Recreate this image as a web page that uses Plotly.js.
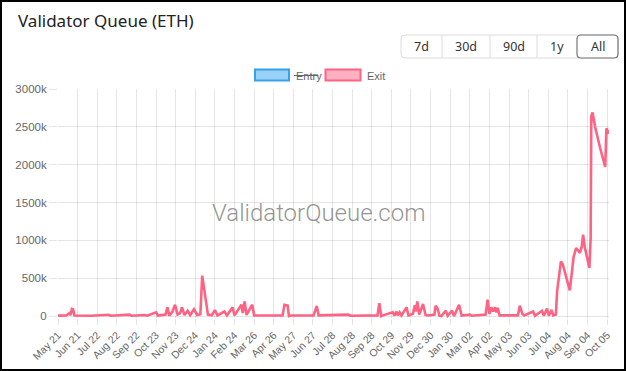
<!DOCTYPE html>
<html>
<head>
<meta charset="utf-8">
<script src="https://cdn.plot.ly/plotly-3.0.1.min.js"></script>
<style>
html,body{margin:0;padding:0;background:#fff;}
#chart{width:626px;height:371px;}
</style>
</head>
<body>
<div id="chart"></div>
<script>
// ---- data ----
const dates = [
'2023-05-21','2023-06-03','2023-06-08','2023-06-10','2023-06-12','2023-06-14','2023-06-16','2023-07-12',
'2023-08-09','2023-08-12','2023-09-11','2023-09-14','2023-10-05','2023-10-09','2023-10-23','2023-10-26',
'2023-11-07','2023-11-10','2023-11-13','2023-11-18','2023-11-22','2023-11-26','2023-11-30','2023-12-03',
'2023-12-07','2023-12-12','2023-12-16','2023-12-22','2023-12-27','2024-01-01','2024-01-04','2024-01-08',
'2024-01-13','2024-01-19','2024-01-24','2024-01-28','2024-02-08','2024-02-12','2024-02-21','2024-02-24',
'2024-03-06','2024-03-08','2024-03-11','2024-03-14','2024-03-23','2024-03-26','2024-04-15','2024-05-10',
'2024-05-13','2024-05-18','2024-05-20','2024-05-23','2024-06-28','2024-07-03','2024-07-06','2024-08-22',
'2024-08-25','2024-10-07','2024-10-10','2024-10-13','2024-10-16','2024-10-31','2024-11-03','2024-11-06',
'2024-11-08','2024-11-11','2024-11-14','2024-11-22','2024-11-25','2024-12-02','2024-12-05','2024-12-07',
'2024-12-09','2024-12-12','2024-12-18','2024-12-22','2024-12-26','2025-01-05','2025-01-07','2025-01-10',
'2025-01-13','2025-01-16','2025-01-23','2025-01-26','2025-02-02','2025-02-05','2025-02-13','2025-02-17',
'2025-03-02','2025-03-05','2025-03-27','2025-03-30','2025-04-02','2025-04-05','2025-04-08','2025-04-11',
'2025-04-13','2025-04-15','2025-04-18','2025-05-17','2025-05-20','2025-05-24','2025-05-27','2025-06-10',
'2025-06-13','2025-06-24','2025-06-27','2025-07-02','2025-07-05','2025-07-09','2025-07-12','2025-07-16',
'2025-07-18','2025-07-24','2025-07-27','2025-07-31','2025-08-03','2025-08-07','2025-08-10','2025-08-13',
'2025-08-17','2025-08-20','2025-08-23','2025-08-26','2025-08-28','2025-08-31','2025-09-03','2025-09-07',
'2025-09-09','2025-09-10','2025-09-12','2025-09-16','2025-09-24','2025-09-30','2025-10-02','2025-10-04',
'2025-10-06','2025-10-08'
];
const exitQueue = [
6000,8000,40000,12000,95000,88000,8000,5000,
18000,5000,20000,5000,15000,6000,50000,8000,
20000,116000,5000,60000,150000,20000,40000,116000,
15000,70000,15000,90000,15000,25000,534000,300000,
20000,10000,80000,10000,60000,10000,116000,10000,
150000,40000,195000,15000,150000,10000,8000,8000,
150000,140000,0,8000,8000,135000,10000,20000,
5000,10000,169000,0,10000,50000,8000,60000,
10000,50000,8000,116000,8000,30000,142000,60000,
195000,20000,160000,15000,8000,20000,138000,100000,
5000,0,73000,5000,73000,0,150000,8000,
20000,5000,20000,218000,30000,116000,60000,116000,
50000,110000,10000,10000,138000,30000,8000,60000,
5000,70000,5000,100000,5000,80000,10000,20000,
330000,723000,680000,550000,480000,340000,550000,780000,
900000,870000,834000,920000,1075000,900000,770000,636000,
1030000,2640000,2690000,2500000,2220000,2020000,1970000,2480000,
2440000,2410000
];
const tickDates = ['2023-05-21','2023-06-21','2023-07-22','2023-08-22','2023-09-22','2023-10-23','2023-11-23','2023-12-24','2024-01-24','2024-02-24','2024-03-26','2024-04-26','2024-05-27','2024-06-27','2024-07-28','2024-08-28','2024-09-28','2024-10-29','2024-11-29','2024-12-30','2025-01-30','2025-03-02','2025-04-02','2025-05-03','2025-06-03','2025-07-04','2025-08-04','2025-09-04','2025-10-05'];
const tickLabels = ['May 21','Jun 21','Jul 22','Aug 22','Sep 22','Oct 23','Nov 23','Dec 24','Jan 24','Feb 24','Mar 26','Apr 26','May 27','Jun 27','Jul 28','Aug 28','Sep 28','Oct 29','Nov 29','Dec 30','Jan 30','Mar 02','Apr 02','May 03','Jun 03','Jul 04','Aug 04','Sep 04','Oct 05'];
const yTickVals = [0,500000,1000000,1500000,2000000,2500000,3000000];
const yTickLabels = ['0','500k','1000k','1500k','2000k','2500k','3000k'];
const seriesNames = ['Entry','Exit'];
const rangeButtons = ['7d','30d','90d','1y','All'];
const chartTitle = 'Validator Queue (ETH)';
const watermark = 'ValidatorQueue.com';

// ---- layout helpers (pixel -> paper) ----
const W=626,H=371,ML=58,MR=17,MT=89,MB=53;
const PW=W-ML-MR, PH=H-MT-MB;
const px = x => (x-ML)/PW;
const py = y => (H-MB-y)/PH;
function rrect(x0,y0,x1,y1,r){
  const P=(x,y)=>px(x)+','+py(y);
  return 'M'+P(x0+r,y0)+' L'+P(x1-r,y0)+' Q'+P(x1,y0)+' '+P(x1,y0+r)+
         ' L'+P(x1,y1-r)+' Q'+P(x1,y1)+' '+P(x1-r,y1)+
         ' L'+P(x0+r,y1)+' Q'+P(x0,y1)+' '+P(x0,y1-r)+
         ' L'+P(x0,y0+r)+' Q'+P(x0,y0)+' '+P(x0+r,y0)+' Z';
}
const grid='rgba(0,0,0,0.1)';
const tickFont={family:'Liberation Sans, Arial, sans-serif',size:11.5,color:'#666'};

const trace = {
  x: dates, y: exitQueue, type:'scatter', mode:'lines', name: seriesNames[1],
  line:{color:'rgb(255,99,132)',width:2.6}, hoverinfo:'skip', showlegend:false
};

const shapes = [
  {type:'rect',xref:'paper',yref:'paper',x0:px(1),x1:px(625),y0:py(1),y1:py(370),line:{color:'#000',width:2},fillcolor:'rgba(0,0,0,0)',layer:'above'},
  {type:'rect',xref:'paper',yref:'paper',x0:px(255),x1:px(289),y0:py(69.5),y1:py(80.5),line:{color:'rgb(54,162,235)',width:2},fillcolor:'rgba(54,162,235,0.5)'},
  {type:'rect',xref:'paper',yref:'paper',x0:px(325.5),x1:px(360.5),y0:py(69.5),y1:py(80.5),line:{color:'rgb(255,99,132)',width:2},fillcolor:'rgba(255,99,132,0.5)'},
  {type:'line',xref:'paper',yref:'paper',x0:px(294),x1:px(318.5),y0:py(75.5),y1:py(75.5),line:{color:'#666',width:1}},
  {type:'path',xref:'paper',yref:'paper',path:rrect(401,35,618,58,4),line:{color:'#dcdcdc',width:1},fillcolor:'#fff'},
  {type:'line',xref:'paper',yref:'paper',x0:px(442),x1:px(442),y0:py(35),y1:py(58),line:{color:'#dcdcdc',width:1}},
  {type:'line',xref:'paper',yref:'paper',x0:px(490),x1:px(490),y0:py(35),y1:py(58),line:{color:'#dcdcdc',width:1}},
  {type:'line',xref:'paper',yref:'paper',x0:px(537),x1:px(537),y0:py(35),y1:py(58),line:{color:'#dcdcdc',width:1}},
  {type:'path',xref:'paper',yref:'paper',path:rrect(577,35,618,58,4),line:{color:'#777',width:1.2},fillcolor:'rgba(0,0,0,0)'}
];

const btnCenters=[421.5,466,513.5,557,597.5];
const annotations = [
  {text:chartTitle,xref:'paper',yref:'paper',x:px(16),y:py(20),xanchor:'left',yanchor:'middle',showarrow:false,
   font:{family:'Noto Sans, Open Sans, sans-serif',size:17,color:'#222'}},
  {text:watermark,xref:'paper',yref:'paper',x:px(318.5),y:py(213),xanchor:'center',yanchor:'middle',showarrow:false,
   font:{family:'Roboto, Liberation Sans, sans-serif',size:24,weight:300,color:'rgba(120,120,120,0.8)'}},
  {text:seriesNames[0],xref:'paper',yref:'paper',x:px(294),y:py(75.5),xanchor:'left',yanchor:'middle',showarrow:false,
   font:{family:'Liberation Sans, Arial, sans-serif',size:11,color:'#666'}},
  {text:seriesNames[1],xref:'paper',yref:'paper',x:px(365),y:py(75.5),xanchor:'left',yanchor:'middle',showarrow:false,
   font:{family:'Liberation Sans, Arial, sans-serif',size:11,color:'#666'}}
];
rangeButtons.forEach((b,i)=>annotations.push({text:b,xref:'paper',yref:'paper',x:px(btnCenters[i]),y:py(46.5),
  xanchor:'center',yanchor:'middle',showarrow:false,font:{family:'Noto Sans, Open Sans, sans-serif',size:12.5,color:'#333'}}));

const layout = {
  width:W,height:H,margin:{l:ML,r:MR,t:MT,b:MB,pad:0},
  paper_bgcolor:'#fff',plot_bgcolor:'#fff',showlegend:false,hovermode:false,
  xaxis:{type:'date',range:['2023-05-21','2025-10-08'],tickmode:'array',tickvals:tickDates,ticktext:tickLabels,
    tickangle:-45,showgrid:true,gridcolor:grid,gridwidth:1,ticks:'outside',ticklen:6,tickcolor:grid,
    showline:false,zeroline:false,tickfont:Object.assign({},tickFont,{size:10.5}),fixedrange:true},
  yaxis:{range:[-25000,3000000],tickmode:'array',tickvals:yTickVals,ticktext:yTickLabels,showgrid:true,
    gridcolor:grid,gridwidth:1,ticks:'outside',ticklen:8,tickcolor:grid,showline:false,zeroline:false,
    tickfont:tickFont,fixedrange:true},
  shapes:shapes,annotations:annotations
};
Plotly.newPlot('chart',[trace],layout,{displayModeBar:false,staticPlot:true});
</script>
</body>
</html>
